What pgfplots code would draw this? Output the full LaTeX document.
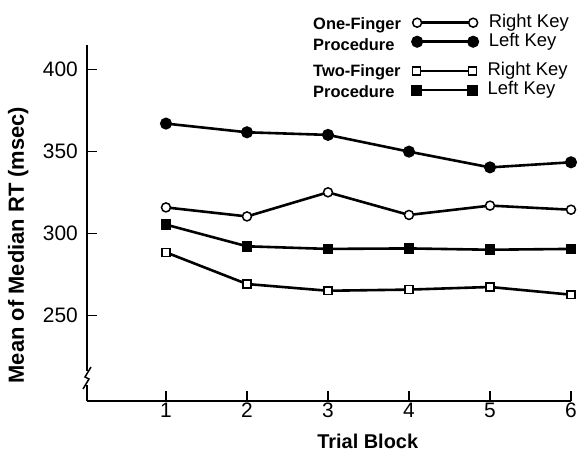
\documentclass[border=0pt]{standalone}
\usepackage{pgfplots}
\pgfplotsset{compat=1.18}
\usepackage{fontspec}
\setmainfont{Liberation Sans}
\begin{document}
\begin{tikzpicture}
\path[use as bounding box] (-87bp,-52bp) rectangle (492bp,401bp);
\begin{axis}[
  at={(0,0)}, anchor=south west,
  scale only axis, width=484bp, height=356bp,
  xmin=0.025, xmax=6, ymin=198, ymax=415,
  axis x line*=bottom, axis y line*=left,
  clip=false,
  xtick={1,2,3,4,5,6}, ytick={250,300,350,400},
  tick align=inside, major tick length=10bp,
  tick style={line width=1.3bp, black},
  axis line style={line width=1.3bp, black},
  /pgf/number format/assume math mode=true,
  ticklabel style={font=\fontsize{21}{23}\selectfont},
  yticklabel style={inner sep=0pt, xshift=-9bp},
  xticklabel style={inner sep=0pt, yshift=-2bp},
  every axis plot/.append style={line width=2.6bp, black},
  legend style={at={(0.672,1.087)}, anchor=north west, draw=none, fill=none,
    inner sep=0pt, row sep=2bp,
    nodes={inner sep=0pt, text height=13bp, text depth=4bp, font=\fontsize{18.5}{20}\selectfont},
    /tikz/every odd column/.append style={column sep=11bp}},
  legend cell align=left,
  legend image code/.code={\draw[mark repeat=1,#1] plot coordinates {(0bp,0bp) (56bp,0bp)};},
]
\addplot[mark=*, mark size=4.5bp, mark options={line width=1.5bp, fill=white}] coordinates {
  (1,316.0) (2,310.5) (3,325.2) (4,311.4) (5,317.1) (6,314.6)};
\addlegendentry{Right Key}
\addplot[mark=*, mark size=4.7bp] coordinates {
  (1,367.1) (2,361.8) (3,360.2) (4,350.0) (5,340.4) (6,343.5)};
\addlegendentry{Left Key}
\addplot[mark=square*, mark size=3.9bp, mark options={line width=1.5bp, fill=white}] coordinates {
  (1,288.6) (2,269.3) (3,265.2) (4,265.9) (5,267.5) (6,262.8)};
\addplot[mark=square*, mark size=4.1bp, mark options={rounded corners=1.5bp}] coordinates {
  (1,305.5) (2,292.3) (3,290.7) (4,291.0) (5,290.2) (6,290.7)};
% axis break
\draw[white, line width=5bp] (axis cs:0.025,208) -- (axis cs:0.025,216);
\draw[line width=1.5bp] ([xshift=-4bp,yshift=-11bp]axis cs:0.025,212) -- ([xshift=2bp,yshift=-1bp]axis cs:0.025,212)
  -- ([xshift=-2bp,yshift=1bp]axis cs:0.025,212) -- ([xshift=4bp,yshift=11bp]axis cs:0.025,212);
% legend group labels
\node[anchor=west, font=\bfseries\fontsize{16.5}{19}\selectfont, inner sep=0pt] at (axis description cs:0.467,1.056) {One-Finger};
\node[anchor=west, font=\bfseries\fontsize{16.5}{19}\selectfont, inner sep=0pt] at (axis description cs:0.467,1.002) {Procedure};
\node[anchor=west, font=\bfseries\fontsize{16.5}{19}\selectfont, inner sep=0pt] at (axis description cs:0.467,0.924) {Two-Finger};
\node[anchor=west, font=\bfseries\fontsize{16.5}{19}\selectfont, inner sep=0pt] at (axis description cs:0.467,0.870) {Procedure};
% axis labels
\node[rotate=90, font=\bfseries\fontsize{22}{24}\selectfont] at (axis description cs:-0.142,0.438) {Mean of Median RT (msec)};
\node[font=\bfseries\fontsize{20}{22}\selectfont] at (axis description cs:0.580,-0.114) {Trial Block};
\end{axis}
\begin{axis}[
  at={(0,0)}, anchor=south west,
  scale only axis, width=484bp, height=356bp,
  xmin=0.025, xmax=6, ymin=198, ymax=415,
  hide axis,
  legend style={at={(0.672,0.951)}, anchor=north west, draw=none, fill=none,
    inner sep=0pt, row sep=2bp,
    nodes={inner sep=0pt, text height=13bp, text depth=4bp, font=\fontsize{18.5}{20}\selectfont},
    /tikz/every odd column/.append style={column sep=11bp}},
  legend cell align=left,
  legend image code/.code={\draw[mark repeat=1,#1] plot coordinates {(0bp,0bp) (56bp,0bp)};},
]
\addlegendimage{line width=2.6bp, black, mark=square*, mark size=3.9bp, mark options={line width=1.5bp, fill=white}}
\addlegendentry{Right Key}
\addlegendimage{line width=2.6bp, black, mark=square*, mark size=4.1bp, mark options={rounded corners=1.5bp}}
\addlegendentry{Left Key}
\end{axis}
\end{tikzpicture}
\end{document}
